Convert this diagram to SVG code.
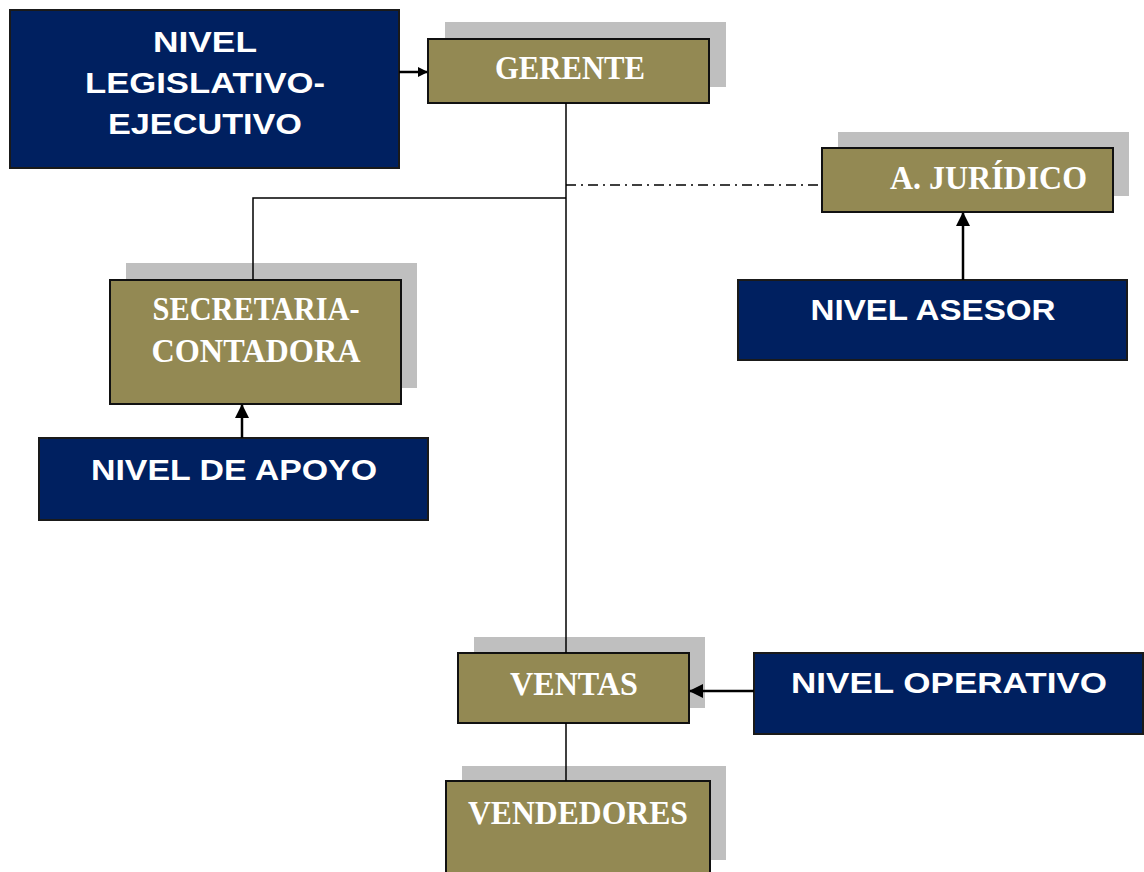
<svg xmlns="http://www.w3.org/2000/svg" width="1144" height="872" viewBox="0 0 1144 872">
  <style>
    .navy { fill: #002060; stroke: #1a1a1a; stroke-width: 2; }
    .olive { fill: #938953; stroke: #111; stroke-width: 2; }
    .shadow { fill: #bfbfbf; }
    .deco { font-family: "Liberation Sans", "DejaVu Sans", sans-serif; font-weight: bold; font-size: 29px; fill: #fff; text-anchor: middle; }
    .serif { font-family: "Liberation Serif", "DejaVu Serif", serif; font-weight: bold; font-size: 34px; fill: #fff; text-anchor: middle; }
    .link { stroke: #000; stroke-width: 1.5; fill: none; }
    .arrow { stroke: #000; stroke-width: 2.5; fill: none; }
  </style>
  <defs>
    <marker id="head" markerWidth="10" markerHeight="10" refX="9" refY="5" orient="auto" markerUnits="userSpaceOnUse" viewBox="0 0 10 10">
      <path d="M0,0 L10,5 L0,10 z" fill="#000"/>
    </marker>
    <marker id="headBig" markerWidth="14" markerHeight="14" refX="13" refY="7" orient="auto" markerUnits="userSpaceOnUse" viewBox="0 0 14 14">
      <path d="M0,0 L14,7 L0,14 z" fill="#000"/>
    </marker>
  </defs>

  <g id="nivel-legislativo">
    <rect class="navy" x="10" y="10" width="389" height="158"/>
    <text class="deco" x="205" y="52" textLength="104" lengthAdjust="spacingAndGlyphs">NIVEL</text>
    <text class="deco" x="205" y="93" textLength="240" lengthAdjust="spacingAndGlyphs">LEGISLATIVO-</text>
    <text class="deco" x="205" y="134" textLength="194" lengthAdjust="spacingAndGlyphs">EJECUTIVO</text>
  </g>

  <g id="gerente">
    <rect class="shadow" x="445" y="22" width="281" height="65"/>
    <rect class="olive" x="428" y="39" width="281" height="64"/>
    <text class="serif" x="570" y="79" textLength="150" lengthAdjust="spacingAndGlyphs">GERENTE</text>
  </g>

  <g id="juridico">
    <rect class="shadow" x="838" y="132" width="291" height="64"/>
    <rect class="olive" x="822" y="148" width="291" height="64"/>
    <text class="serif" x="890" y="189" style="text-anchor:start" textLength="197" lengthAdjust="spacingAndGlyphs">A.  JURÍDICO</text>
  </g>

  <g id="nivel-asesor">
    <rect class="navy" x="738" y="280" width="389" height="80"/>
    <text class="deco" x="933" y="320" textLength="245" lengthAdjust="spacingAndGlyphs">NIVEL ASESOR</text>
  </g>

  <g id="secretaria">
    <rect class="shadow" x="126" y="263" width="291" height="125"/>
    <rect class="olive" x="110" y="280" width="291" height="124"/>
    <text class="serif" x="256" y="320" textLength="207" lengthAdjust="spacingAndGlyphs">SECRETARIA-</text>
    <text class="serif" x="256" y="362" textLength="209" lengthAdjust="spacingAndGlyphs">CONTADORA</text>
  </g>

  <g id="nivel-apoyo">
    <rect class="navy" x="39" y="438" width="389" height="82"/>
    <text class="deco" x="234" y="480" textLength="286" lengthAdjust="spacingAndGlyphs">NIVEL DE APOYO</text>
  </g>

  <g id="ventas">
    <rect class="shadow" x="474" y="637" width="231" height="71"/>
    <rect class="olive" x="458" y="653" width="231" height="70"/>
    <text class="serif" x="574" y="695" textLength="128" lengthAdjust="spacingAndGlyphs">VENTAS</text>
  </g>

  <g id="nivel-operativo">
    <rect class="navy" x="754" y="653" width="389" height="81"/>
    <text class="deco" x="949" y="693" textLength="316" lengthAdjust="spacingAndGlyphs">NIVEL OPERATIVO</text>
  </g>

  <g id="vendedores">
    <rect class="shadow" x="462" y="766" width="264" height="94"/>
    <rect class="olive" x="446" y="781" width="264" height="100"/>
    <text class="serif" x="578" y="824" textLength="220" lengthAdjust="spacingAndGlyphs">VENDEDORES</text>
  </g>

  <!-- connectors drawn last so they sit over the drop shadows -->
  <g id="connectors">
    <path class="link" d="M566,103 V653"/>
    <path class="link" d="M566,198 H253 V280"/>
    <path class="link" d="M566,723 V781"/>
    <path class="link" d="M566,185 H822" stroke-dasharray="10,5,2,5"/>
    <path class="arrow" d="M399,72 H427" marker-end="url(#head)"/>
    <path class="arrow" d="M963,280 V213" marker-end="url(#headBig)"/>
    <path class="arrow" d="M242,438 V405" marker-end="url(#headBig)"/>
    <path class="arrow" d="M754,691 H690" marker-end="url(#headBig)"/>
  </g>
</svg>
